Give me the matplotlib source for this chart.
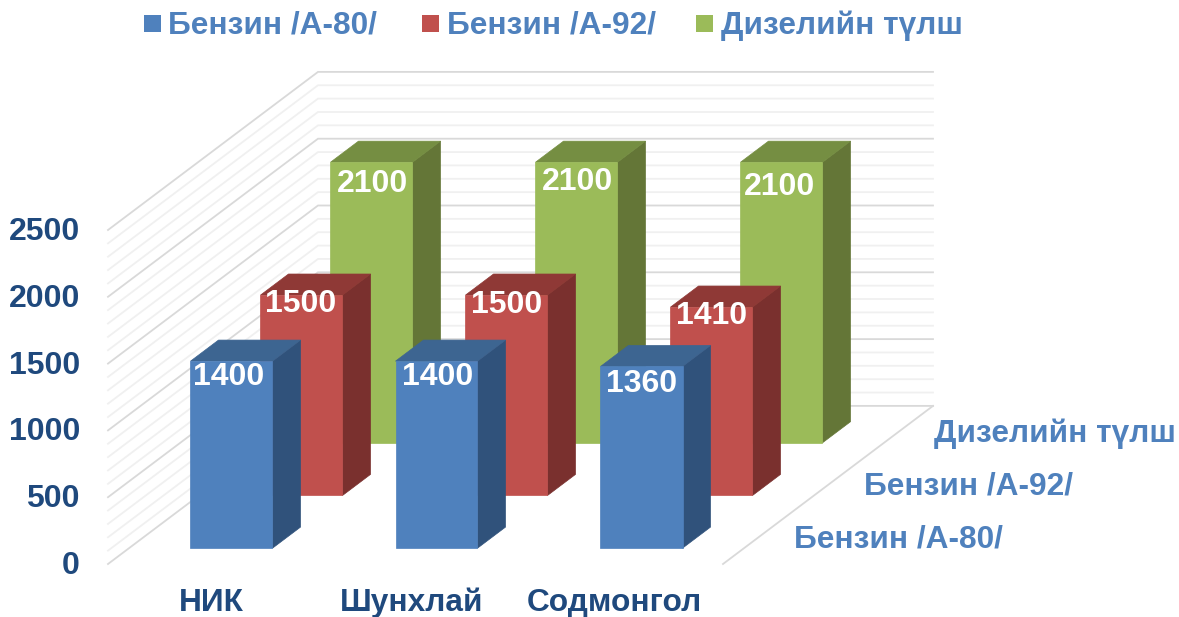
import matplotlib
matplotlib.use("Agg")
import matplotlib.pyplot as plt
from matplotlib.patches import Polygon, Rectangle

# ---- data ----
categories = ["НИК", "Шунхлай", "Содмонгол"]
series_names = ["Бензин /А-80/", "Бензин /А-92/", "Дизелийн түлш"]
a80_values = [1400, 1400, 1360]
a92_values = [1500, 1500, 1410]
diesel_values = [2100, 2100, 2100]
value_ticks = [0, 500, 1000, 1500, 2000, 2500]
minor_step = 100

# ---- style ----
W, H = 1179, 617
FONT = "Liberation Sans"
BLUE_TXT = "#4F81BD"
NAVY_TXT = "#1F497D"
faces = [("#4F81BD", "#3D6591", "#30527B"),
         ("#C0504D", "#8F3936", "#7A302E"),
         ("#9BBB59", "#758E42", "#647637")]
PX_CAT = 205.0      # pixels per category
PX_VAL = 0.1336     # pixels per value unit
DX, DY = 70.0, 52.7 # pixel shift per series slot of depth
LEFT, BOTTOM = 108.0, 564.0
BAR_W = 0.4
BAR_D = 0.4
D_START = 0.3

fig = plt.figure(figsize=(W / 100, H / 100), dpi=100)
ax = fig.add_axes([0, 0, 1, 1])
# scales: x in category units (0 = left edge of the floor), y in value units
ax.set_xlim(-LEFT / PX_CAT, (W - LEFT) / PX_CAT)
ax.set_ylim(-(H - BOTTOM) / PX_VAL, BOTTOM / PX_VAL)
ax.axis("off")


def P(x, v, d):
    """oblique projection: category position, value, depth (in series slots)"""
    return (x + d * DX / PX_CAT, v + d * DY / PX_VAL)


def px(xp, yp):
    return xp / W, 1 - yp / H


n_cat = len(categories)
n_ser = len(series_names)
vmax = value_ticks[-1]

# gridlines on the side wall and the back wall
levels = list(range(0, vmax + 1, minor_step))
for v in levels:
    major = v in value_ticks
    pts = [P(0, v, 0), P(0, v, n_ser), P(n_cat, v, n_ser)]
    ax.plot(*zip(*pts), color="#D9D9D9" if major else "#F0F0F0",
            lw=1.3, zorder=2 if major else 1, solid_joinstyle="miter")
# right floor edge
ax.plot(*zip(P(n_cat, 0, 0), P(n_cat, 0, n_ser)), color="#D9D9D9", lw=1.3, zorder=2)

# bars, back to front
all_values = [a80_values, a92_values, diesel_values]
label_nudge = [[(-3, 16), (1, 16), (0, 18)],
               [(-1, 9), (0, 10), (0, 9)],
               [(1, 22), (1, 20), (-2, 25)]]
z = 5
for s in reversed(range(n_ser)):
    front, top, side = faces[s]
    for c in range(n_cat):
        v = all_values[s][c]
        x0 = c + 0.5 - BAR_W / 2
        x1 = c + 0.5 + BAR_W / 2
        d0 = s + D_START
        d1 = d0 + BAR_D
        ax.add_patch(Polygon([P(x1, 0, d0), P(x1, 0, d1), P(x1, v, d1), P(x1, v, d0)],
                             fc=side, ec=side, lw=0.5, zorder=z))
        ax.add_patch(Polygon([P(x0, v, d0), P(x1, v, d0), P(x1, v, d1), P(x0, v, d1)],
                             fc=top, ec=top, lw=0.5, zorder=z))
        ax.add_patch(Polygon([P(x0, 0, d0), P(x1, 0, d0), P(x1, v, d0), P(x0, v, d0)],
                             fc=front, ec=front, lw=0.5, zorder=z + 1))
        lx, ly = P(c + 0.5, v, d0)
        nx, ny = label_nudge[s][c]
        ax.text(lx + nx / PX_CAT, ly - ny / PX_VAL, str(v), color="white",
                family=FONT, weight="bold", fontsize=23, ha="center",
                va="center", zorder=z + 2)
        z += 3

# value axis labels
for v in value_ticks:
    fx, fy = P(0, v, 0)
    ax.text(fx - 28 / PX_CAT, fy - 2 / PX_VAL, str(v), color=NAVY_TXT, family=FONT,
            weight="bold", fontsize=23, ha="right", va="center", zorder=50)

# category labels
cat_nudge = [1, -4, -6]
for c, name in enumerate(categories):
    ax.text(c + 0.5 + cat_nudge[c] / PX_CAT, -39 / PX_VAL, name, color=NAVY_TXT,
            family=FONT, weight="bold", fontsize=22.8, ha="center", va="center", zorder=50)

# depth axis labels
for s, name in enumerate(series_names):
    fx, fy = P(n_cat, 0, s)
    ax.text(fx + 71 / PX_CAT, fy + 25 / PX_VAL, name, color=BLUE_TXT, family=FONT,
            weight="bold", fontsize=22.8, ha="left", va="center", zorder=50)

# legend
swatch_x = [144, 422, 696]
for s, name in enumerate(series_names):
    x0, y0 = px(swatch_x[s], 32)
    fig.add_artist(Rectangle((x0, y0), 17 / W, 17 / H, transform=fig.transFigure,
                             fc=faces[s][0], ec="none"))
    tx, ty = px(swatch_x[s] + 24.5, 26)
    fig.text(tx, ty, name, color=BLUE_TXT, family=FONT, weight="bold",
             fontsize=22.8, ha="left", va="center")

fig.savefig("out.png", dpi=100, facecolor="white")
